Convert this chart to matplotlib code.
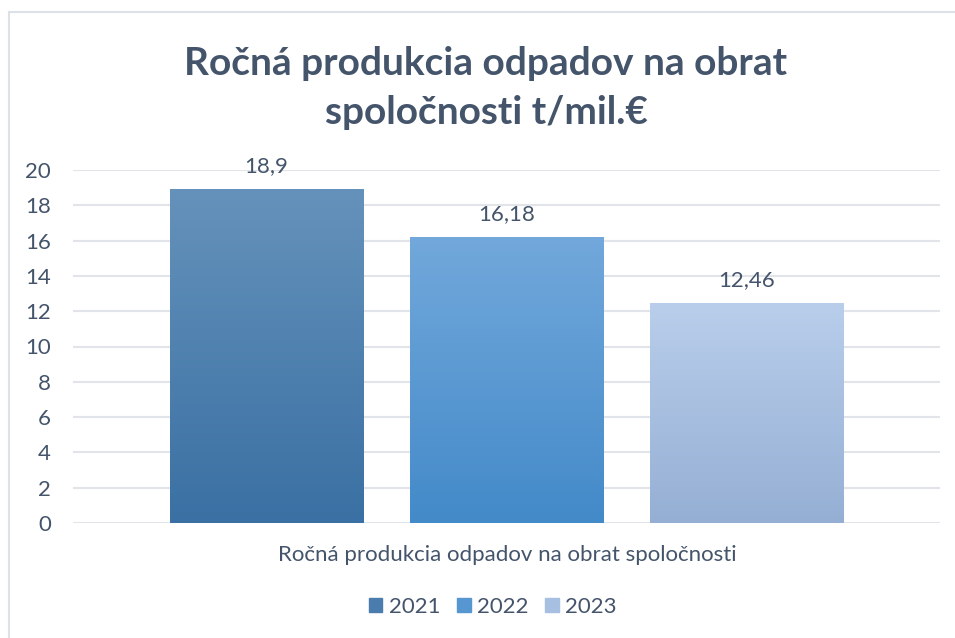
import matplotlib.pyplot as plt
import matplotlib.patches as mpatches
from matplotlib.colors import LinearSegmentedColormap
import numpy as np

years = ["2021", "2022", "2023"]
values = [18.9, 16.18, 12.46]
value_labels = ["18,9", "16,18", "12,46"]
category = "Ročná produkcia odpadov na obrat spoločnosti"
title = "Ročná produkcia odpadov na obrat\nspoločnosti t/mil.€"
y_ticks = [0, 2, 4, 6, 8, 10, 12, 14, 16, 18, 20]

# (top, bottom) gradient colours per bar
bar_colors = [("#6592BB", "#3A70A3"), ("#72A8DB", "#438AC9"), ("#B9CEEB", "#95AFD4")]
legend_colors = ["#4A7DAE", "#5697D2", "#A7BFE0"]

text_color = "#44546A"
font = "Lato"

fig = plt.figure(figsize=(9.55, 6.38), dpi=100)
W, H = 955, 638

# light outer border of the chart area
fig.patches.append(
    mpatches.Rectangle((9 / W, -0.05), 1.0, (H - 12) / H + 0.05, transform=fig.transFigure,
                       fill=False, edgecolor="#DDE2E8", linewidth=1.5)
)

ax = fig.add_axes([73 / W, (H - 523) / H, (940 - 73) / W, (523 - 170) / H])

x = np.arange(len(years)) - 1
width = 0.805
for xi, v, (top, bottom) in zip(x, values, bar_colors):
    cmap = LinearSegmentedColormap.from_list("g", [bottom, top])
    grad = np.linspace(0, 1, 256).reshape(-1, 1)
    ax.imshow(grad, cmap=cmap, aspect="auto", origin="lower",
              extent=(xi - width / 2, xi + width / 2, 0, v), zorder=2)

for xi, v, lab in zip(x, values, value_labels):
    ax.text(xi, v + 0.75, lab, ha="center", va="bottom", fontsize=16,
            color=text_color, family=font)

ax.set_xlim(-1.806, 1.806)
ax.set_ylim(0, 20)
ax.set_yticks(y_ticks)
ax.set_yticklabels([str(t) for t in y_ticks], fontsize=16, color=text_color, family=font)
ax.tick_params(axis="y", length=0, pad=16)
ax.set_xticks([])
ax.grid(axis="y", color="#E1E5EA", linewidth=1.5, zorder=0)
ax.set_axisbelow(True)
for s in ax.spines.values():
    s.set_visible(False)

fig.text(507 / W, 1 - 555 / H, category, ha="center", va="center",
         fontsize=16, color=text_color, family=font)

fig.text(486 / W, 1 - 88 / H, title, ha="center", va="center", fontsize=28,
         fontweight="bold", color=text_color, family=font, linespacing=1.5)

handles = [mpatches.Patch(color=c, label=y) for c, y in zip(legend_colors, years)]
fig.legend(handles=handles, loc="center", bbox_to_anchor=(493 / W, 1 - 607 / H),
           ncol=3, frameon=False, handlelength=0.6, handleheight=0.6,
           handletextpad=0.3, columnspacing=0.75,
           prop={"family": font, "size": 16}, labelcolor=text_color)

plt.savefig("out.png", dpi=100)
